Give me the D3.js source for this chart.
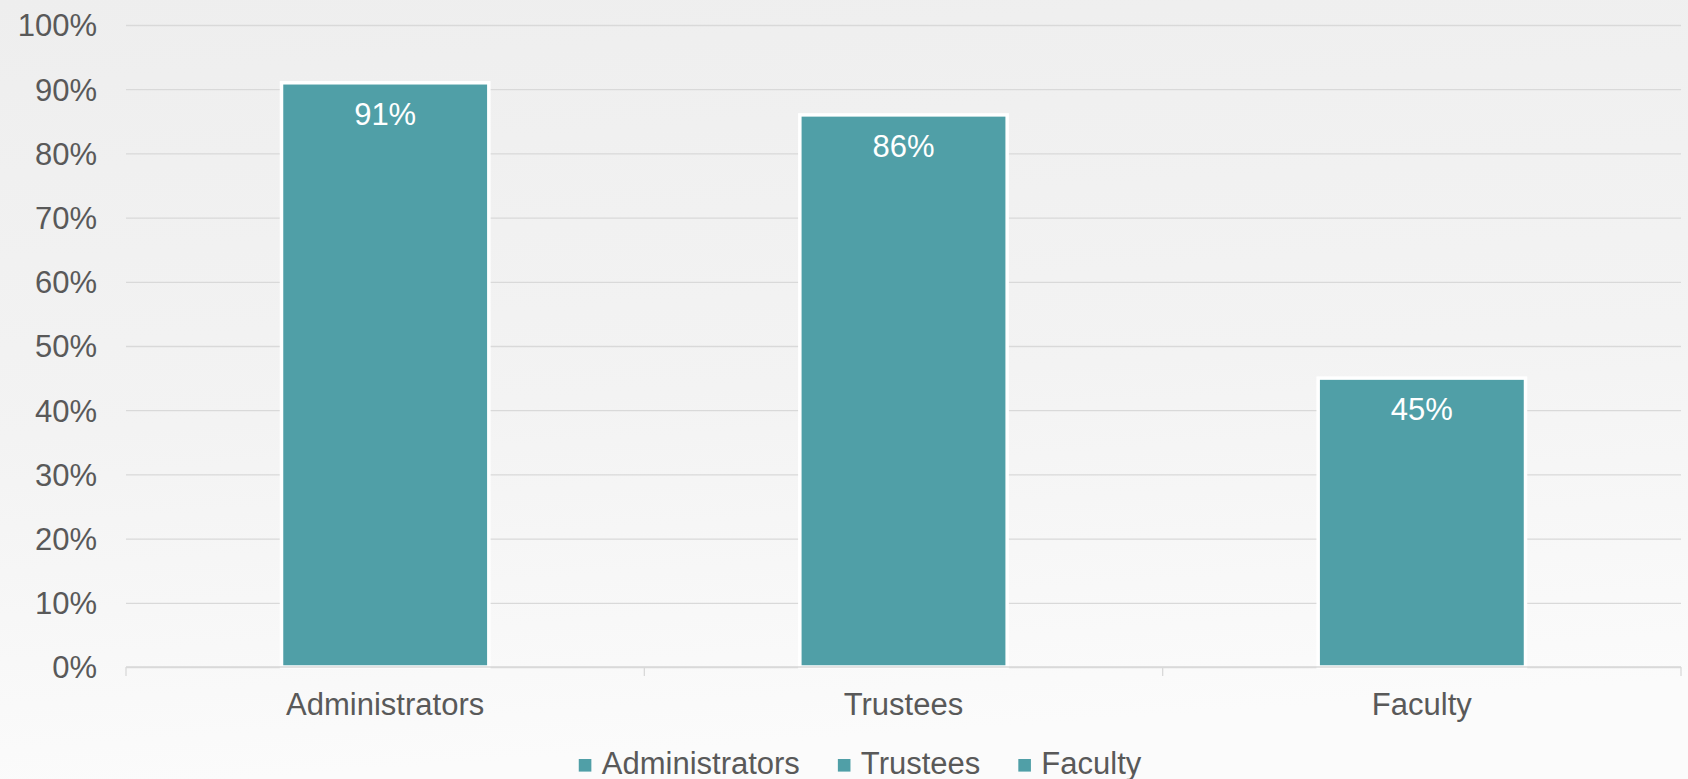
<!DOCTYPE html>
<html>
<head>
<meta charset="utf-8">
<script src="https://cdn.jsdelivr.net/npm/d3@7"></script>
<style>
  html, body { margin: 0; padding: 0; overflow: hidden; }
  svg { display: block; font-family: "Liberation Sans", Arial, sans-serif; }
</style>
</head>
<body>
<svg id="chart" width="1688" height="779"></svg>
<script>
// data ==================================================
var categories = ["Administrators", "Trustees", "Faculty"];
var values = [0.91, 0.86, 0.45];
var yTicks = [0, 0.1, 0.2, 0.3, 0.4, 0.5, 0.6, 0.7, 0.8, 0.9, 1.0];
var legendItems = ["Administrators", "Trustees", "Faculty"];

// setup =================================================
var svg = d3.select("#chart"),
    width = +svg.attr("width"),
    height = +svg.attr("height");

var barColor = "#509fa7";
var textColor = "#595959";
var gridColor = "#d9d9d9";
var fontSize = 31;

// plot area (note: "top" is reserved on window, so use plot* names)
var plotLeft = 126, plotRight = 1681, plotTop = 25, plotBottom = 667;

var defs = svg.append("defs");
var grad = defs.append("linearGradient")
    .attr("id", "bg")
    .attr("x1", 0).attr("y1", 0).attr("x2", 0.15).attr("y2", 1);
grad.append("stop").attr("offset", "0%").attr("stop-color", "#eeeeee");
grad.append("stop").attr("offset", "55%").attr("stop-color", "#f3f3f3");
grad.append("stop").attr("offset", "100%").attr("stop-color", "#fbfbfb");

svg.append("rect")
  .attr("width", width)
  .attr("height", height)
  .attr("fill", "url(#bg)");

var x = d3.scaleBand().domain(categories).range([plotLeft, plotRight]).padding(0);
var y = d3.scaleLinear().domain([0, 1]).range([plotBottom, plotTop]);

// gridlines + y labels
var yAxis = svg.append("g")
  .attr("transform", "translate(" + plotLeft + ",0)")
  .call(d3.axisLeft(y)
    .tickValues(yTicks)
    .tickSize(-(plotRight - plotLeft))
    .tickPadding(29)
    .tickFormat(d3.format(".0%")));

yAxis.select(".domain").remove();
yAxis.selectAll("line")
  .attr("stroke", gridColor)
  .attr("stroke-width", 1.3);
yAxis.selectAll("text")
  .attr("fill", textColor)
  .attr("font-size", fontSize)
  .attr("font-family", "Liberation Sans, Arial, sans-serif")
  .attr("dy", "0.35em");

// x axis boundary ticks + labels
var xAxis = svg.append("g");
var bounds = categories.map(function(c) { return x(c); })
  .concat([x(categories[categories.length - 1]) + x.bandwidth()]);
xAxis.selectAll(".tickmark")
  .data(bounds)
  .enter().append("line")
  .attr("class", "tickmark")
  .attr("x1", function(d) { return d; })
  .attr("x2", function(d) { return d; })
  .attr("y1", y(0))
  .attr("y2", y(0) + 9)
  .attr("stroke", gridColor)
  .attr("stroke-width", 1.3);

xAxis.selectAll(".catlabel")
  .data(categories)
  .enter().append("text")
  .attr("class", "catlabel")
  .attr("x", function(d) { return x(d) + x.bandwidth() / 2; })
  .attr("y", 715)
  .attr("text-anchor", "middle")
  .attr("fill", textColor)
  .attr("font-size", fontSize)
  .text(function(d) { return d; });

// bars
var barW = x.bandwidth() * 0.4;
var bars = svg.append("g");
bars.selectAll("rect")
  .data(values)
  .enter().append("rect")
  .attr("x", function(d, i) { return x(categories[i]) + (x.bandwidth() - barW) / 2; })
  .attr("y", function(d) { return y(d); })
  .attr("width", barW)
  .attr("height", function(d) { return y(0) - y(d); })
  .attr("fill", barColor)
  .attr("stroke", "#ffffff")
  .attr("stroke-width", 3.5);

// axis line over bar bottoms
svg.append("line")
  .attr("x1", plotLeft).attr("x2", plotRight)
  .attr("y1", y(0)).attr("y2", y(0))
  .attr("stroke", gridColor)
  .attr("stroke-width", 1.3);

bars.selectAll("text")
  .data(values)
  .enter().append("text")
  .attr("x", function(d, i) { return x(categories[i]) + x.bandwidth() / 2; })
  .attr("y", function(d) { return y(d) + 42; })
  .attr("text-anchor", "middle")
  .attr("fill", "#ffffff")
  .attr("font-size", fontSize)
  .text(function(d) { return d3.format(".0%")(d); });

// legend
var legend = svg.append("g");
var items = legend.selectAll("g")
  .data(legendItems)
  .enter().append("g");

items.append("rect")
  .attr("width", 12.6)
  .attr("height", 12.6)
  .attr("y", -15)
  .attr("fill", barColor);

items.append("text")
  .attr("x", 23)
  .attr("y", 0)
  .attr("fill", textColor)
  .attr("font-size", fontSize)
  .text(function(d) { return d; });

var offset = 0, positions = [];
items.each(function() {
  var w = d3.select(this).select("text").node().getComputedTextLength();
  positions.push(offset);
  offset += 23 + w + 38;
});
var totalW = offset - 38;
var startX = 860 - totalW / 2;
items.attr("transform", function(d, i) { return "translate(" + (startX + positions[i]) + ",774)"; });
</script>
</body>
</html>
